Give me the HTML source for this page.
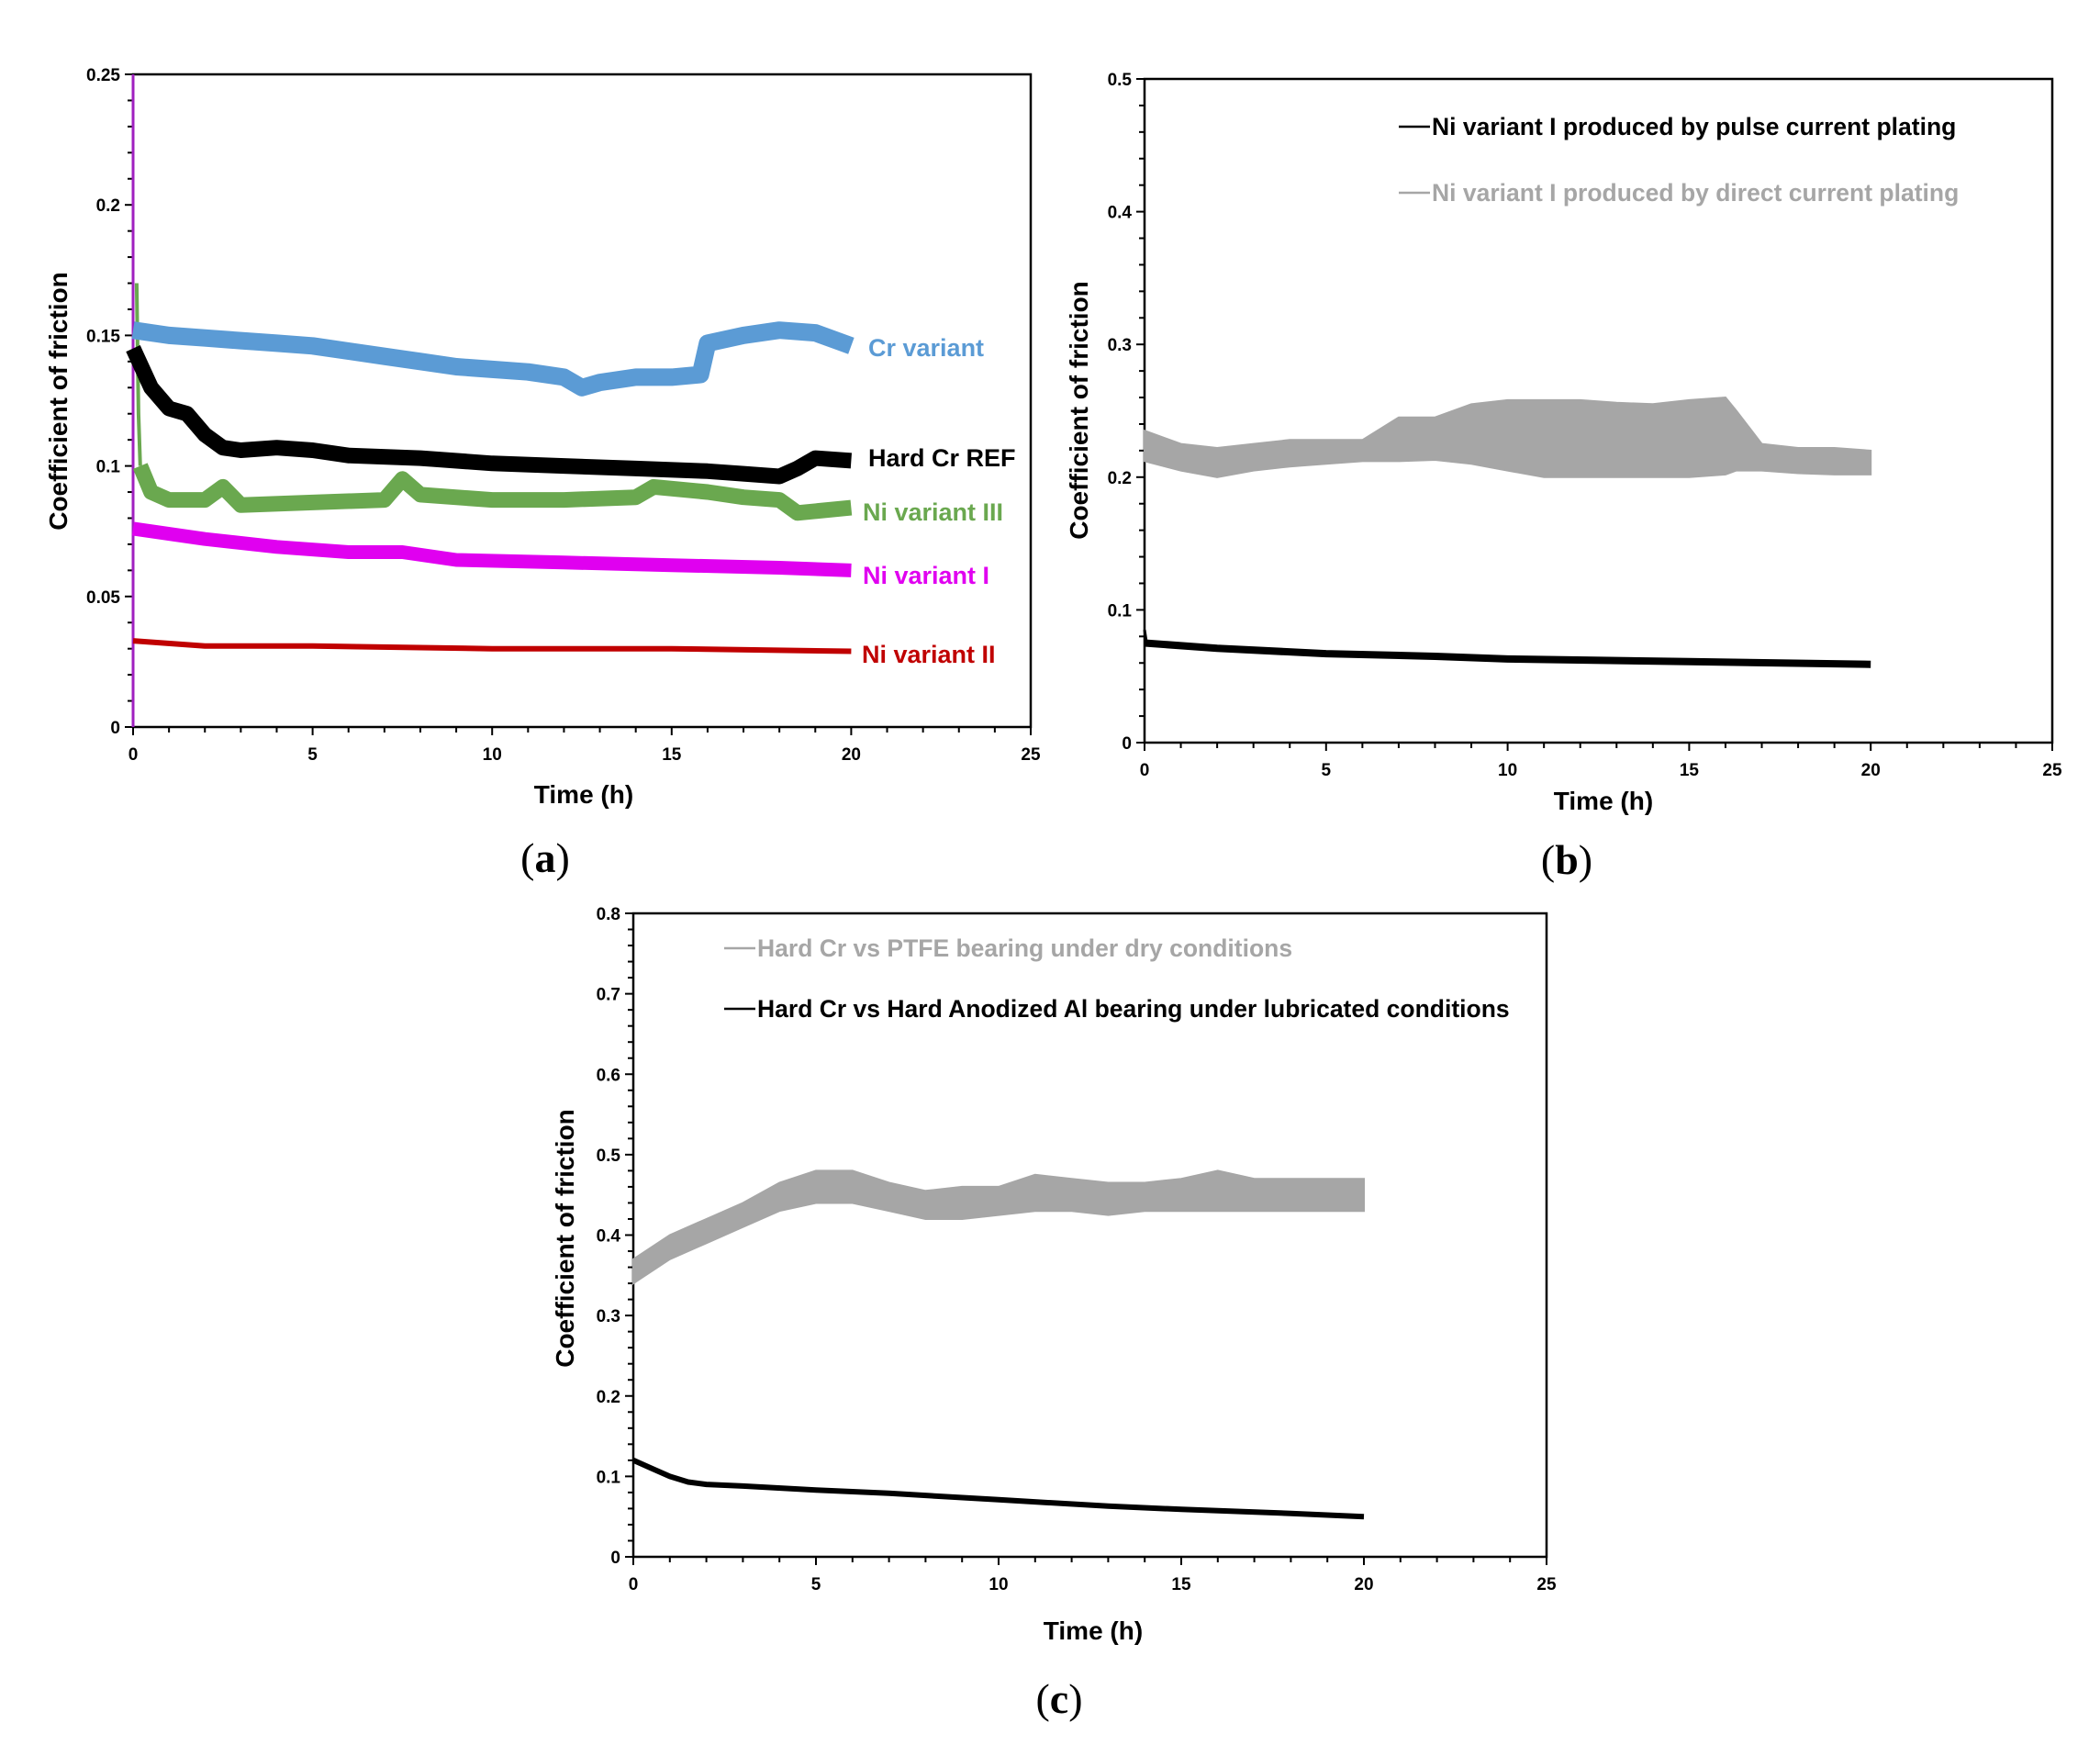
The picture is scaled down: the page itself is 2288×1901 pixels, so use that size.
<!DOCTYPE html>
<html><head><meta charset="utf-8"><style>
html,body{margin:0;padding:0;background:#fff;}
svg{display:block;font-family:"Liberation Sans",sans-serif;}
</style></head><body>
<svg id="fig" width="2288" height="1901" viewBox="0 0 2288 1901" xmlns="http://www.w3.org/2000/svg">
<rect width="2288" height="1901" fill="#fff"/>
</svg>
<script>
// ---------- Panel (a) data ----------
const aCrT   = [0,1,2,3,4,5,6,7,8,9,10,11,12,12.5,13,14,15,15.8,16,17,18,19,20];
const aCrV   = [0.152,0.150,0.149,0.148,0.147,0.146,0.144,0.142,0.140,0.138,0.137,0.136,0.134,0.130,0.132,0.134,0.134,0.135,0.147,0.150,0.152,0.151,0.146];
const aRefT  = [0,0.5,1,1.5,2,2.5,3,4,5,6,8,10,12,14,16,17,18,18.5,19,20];
const aRefV  = [0.145,0.130,0.122,0.120,0.112,0.107,0.106,0.107,0.106,0.104,0.103,0.101,0.100,0.099,0.098,0.097,0.096,0.099,0.103,0.102];
const aN3T   = [0.2,0.5,1,2,2.5,3,5,7,7.5,8,10,12,14,14.5,16,17,18,18.5,20];
const aN3V   = [0.100,0.090,0.087,0.087,0.092,0.085,0.086,0.087,0.095,0.089,0.087,0.087,0.088,0.092,0.090,0.088,0.087,0.082,0.084];
const aN1T   = [0,2,4,6,7.5,9,12,15,18,20];
const aN1V   = [0.076,0.072,0.069,0.067,0.067,0.064,0.063,0.062,0.061,0.060];
const aN2T   = [0,2,5,10,15,20];
const aN2V   = [0.033,0.031,0.031,0.030,0.030,0.029];
// ---------- Panel (b) data ----------
const bGrayT  = [0,1,2,3,4,5,6,7,8,9,10,11,12,13,14,15,16,16.3,17,18,19,20];
const bGrayHi = [0.235,0.225,0.222,0.225,0.228,0.228,0.228,0.245,0.245,0.255,0.258,0.258,0.258,0.256,0.255,0.258,0.260,0.250,0.225,0.222,0.222,0.220];
const bGrayLo = [0.212,0.205,0.200,0.205,0.208,0.210,0.212,0.212,0.213,0.210,0.205,0.200,0.200,0.200,0.200,0.200,0.202,0.205,0.205,0.203,0.202,0.202];
const bBlkT   = [0,2,5,8,10,15,20];
const bBlkV   = [0.075,0.071,0.067,0.065,0.063,0.061,0.059];
// ---------- Panel (c) data ----------
const cGrayT  = [0,1,2,3,4,5,6,7,8,9,10,11,12,13,14,15,16,17,18,19,20];
const cGrayHi = [0.370,0.400,0.420,0.440,0.465,0.480,0.480,0.465,0.455,0.460,0.460,0.475,0.470,0.465,0.465,0.470,0.480,0.470,0.470,0.470,0.470];
const cGrayLo = [0.340,0.370,0.390,0.410,0.430,0.440,0.440,0.430,0.420,0.420,0.425,0.430,0.430,0.425,0.430,0.430,0.430,0.430,0.430,0.430,0.430];
const cBlkT   = [0,0.5,1,1.5,2,3,5,7,10,13,15,18,20];
const cBlkV   = [0.120,0.110,0.100,0.093,0.090,0.088,0.083,0.079,0.071,0.063,0.059,0.054,0.050];
// tick labels
const aYTicks = ["0","0.05","0.1","0.15","0.2","0.25"];
const bYTicks = ["0","0.1","0.2","0.3","0.4","0.5"];
const cYTicks = ["0","0.1","0.2","0.3","0.4","0.5","0.6","0.7","0.8"];
const xTicks  = ["0","5","10","15","20","25"];

const NS="http://www.w3.org/2000/svg";
const svg=document.getElementById('fig');
function mk(tag,attrs,parent){const e=document.createElementNS(NS,tag);for(const k in attrs)e.setAttribute(k,attrs[k]);(parent||svg).appendChild(e);return e;}

function panel(p){
  const g=mk('g',{});
  
  
  const X=t=>p.l+(t/25)*(p.r-p.l);
  const Y=v=>p.b-(v/p.ymax)*(p.b-p.t);
  p.X=X;p.Y=Y;
  const frame=mk('rect',{x:p.l,y:p.t,width:p.r-p.l,height:p.b-p.t,fill:'none',stroke:'#000','stroke-width':2.5},g);
  
  
  for(let i=0;i<=25;i++){
    const x=X(i),maj=i%5===0;
    mk('line',{x1:x,x2:x,y1:p.b,y2:p.b+(maj?9:6),stroke:'#000','stroke-width':2},g);
  }
  xTicks.forEach((s,i)=>{
    const t=mk('text',{x:X(i*5),y:p.b+36,'text-anchor':'middle','font-size':19,'font-weight':'bold',fill:'#000'},g);
    t.textContent=s;
    
    
  });
  const n=p.yt.length-1;
  const minor=p.minor;
  for(let i=0;i<=n*minor;i++){
    const v=i*p.ymax/(n*minor),y=Y(v),maj=i%minor===0;
    mk('line',{x1:p.l-(maj?9:6),x2:p.l,y1:y,y2:y,stroke:'#000','stroke-width':2},g);
  }
  p.yt.forEach((s,i)=>{
    const t=mk('text',{x:p.l-14,y:Y(i*p.ymax/n)+7,'text-anchor':'end','font-size':19,'font-weight':'bold',fill:'#000'},g);
    t.textContent=s;
    
    
  });
  const xt=mk('text',{x:p.xtx,y:p.xty,'text-anchor':'middle','font-size':28,'font-weight':'bold',fill:'#000'},g);
  xt.textContent='Time (h)';
  
  
  const yt=mk('text',{x:0,y:0,transform:`translate(${p.ytx},${p.yty}) rotate(-90)`,'text-anchor':'middle','font-size':28,'font-weight':'bold',fill:'#000'},g);
  yt.textContent='Coefficient of friction';
  
  
  const lb=mk('text',{x:p.lbx,y:p.lby,'text-anchor':'middle','font-size':46,'font-family':'Liberation Serif, serif',fill:'#000'},g);
  lb.innerHTML='(<tspan font-weight="bold">'+p.letter+'</tspan>)';
  
  
  p.g=g;
  return p;
}
function line(p,T,V,color,w,name){
  const pts=T.map((t,i)=>p.X(t).toFixed(1)+','+p.Y(V[i]).toFixed(1)).join(' ');
  const e=mk('polyline',{points:pts,fill:'none',stroke:color,'stroke-width':w,'stroke-linejoin':'round','stroke-linecap':'butt'},p.g);
  
  
}
function band(p,T,Hi,Lo,color,name){
  const top=T.map((t,i)=>p.X(t).toFixed(1)+','+p.Y(Hi[i]).toFixed(1));
  const bot=T.map((t,i)=>p.X(t).toFixed(1)+','+p.Y(Lo[i]).toFixed(1)).reverse();
  const e=mk('polygon',{points:top.concat(bot).join(' '),fill:color,stroke:color,'stroke-width':2},p.g);
  
  
}
function label(p,x,y,txt,color,name,size){
  const t=mk('text',{x:x,y:y,'font-size':size||27,'font-weight':'bold',fill:color},p.g);
  t.textContent=txt;
  
  
}
function legend(p,x,y,txt,color,name){
  mk('line',{x1:x,x2:x+34,y1:y-9,y2:y-9,stroke:color,'stroke-width':2.5},p.g);
  const t=mk('text',{x:x+36,y:y,'font-size':26.5,'font-weight':'bold',fill:color},p.g);
  t.textContent=txt;
  
  
}

// Panel a
const pa=panel({name:'panel-a',l:145,r:1123,t:81,b:792,ymax:0.25,yt:aYTicks,minor:5,xtx:636,xty:875,ytx:73,yty:437,lbx:594,lby:950,letter:'a'});
mk('line',{x1:pa.X(0),x2:pa.X(0),y1:pa.Y(0),y2:pa.Y(0.25),stroke:'#a020c0','stroke-width':3},pa.g);
line(pa,aN2T,aN2V,'#c00000',6,'series-ni-variant-ii');
line(pa,aN1T,aN1V,'#e000f0',15,'series-ni-variant-i');
line(pa,[0.1,0.15,0.2],[0.17,0.12,0.1],'#6aa84f',4,'series-ni-variant-iii-spike');
line(pa,aN3T,aN3V,'#6aa84f',17,'series-ni-variant-iii');
line(pa,aRefT,aRefV,'#000',17,'series-hard-cr-ref');
line(pa,aCrT,aCrV,'#5b9bd5',19,'series-cr-variant');
label(pa,946,388,'Cr variant','#5b9bd5','label-cr-variant');
label(pa,946,508,'Hard Cr REF','#000','label-hard-cr-ref');
label(pa,940,567,'Ni variant III','#6aa84f','label-ni-variant-iii');
label(pa,940,636,'Ni variant I','#e000f0','label-ni-variant-i');
label(pa,939,722,'Ni variant II','#c00000','label-ni-variant-ii');

// Panel b
const pb=panel({name:'panel-b',l:1247,r:2236,t:86,b:809,ymax:0.5,yt:bYTicks,minor:5,xtx:1747,xty:882,ytx:1185,yty:447,lbx:1707,lby:952,letter:'b'});
band(pb,bGrayT,bGrayHi,bGrayLo,'#a6a6a6','series-direct-current');
line(pb,[0,0.05,0.1],[0.085,0.076,0.075],'#000',3,'series-pulse-current-spike');
line(pb,bBlkT,bBlkV,'#000',8,'series-pulse-current');
legend(pb,1524,147,'Ni variant I produced by pulse current plating','#000','legend-pulse-current');
legend(pb,1524,219,'Ni variant I produced by direct current plating','#a6a6a6','legend-direct-current');

// Panel c
const pc=panel({name:'panel-c',l:690,r:1685,t:995,b:1696,ymax:0.8,yt:cYTicks,minor:5,xtx:1191,xty:1786,ytx:625,yty:1349,lbx:1154,lby:1866,letter:'c'});
band(pc,cGrayT,cGrayHi,cGrayLo,'#a6a6a6','series-ptfe-dry');
line(pc,cBlkT,cBlkV,'#000',6,'series-anodized-lubricated');
legend(pc,789,1042,'Hard Cr vs PTFE bearing under dry conditions','#a6a6a6','legend-ptfe-dry');
legend(pc,789,1108,'Hard Cr vs Hard Anodized Al bearing under lubricated conditions','#000','legend-anodized-lubricated');
</script>
</body></html>
